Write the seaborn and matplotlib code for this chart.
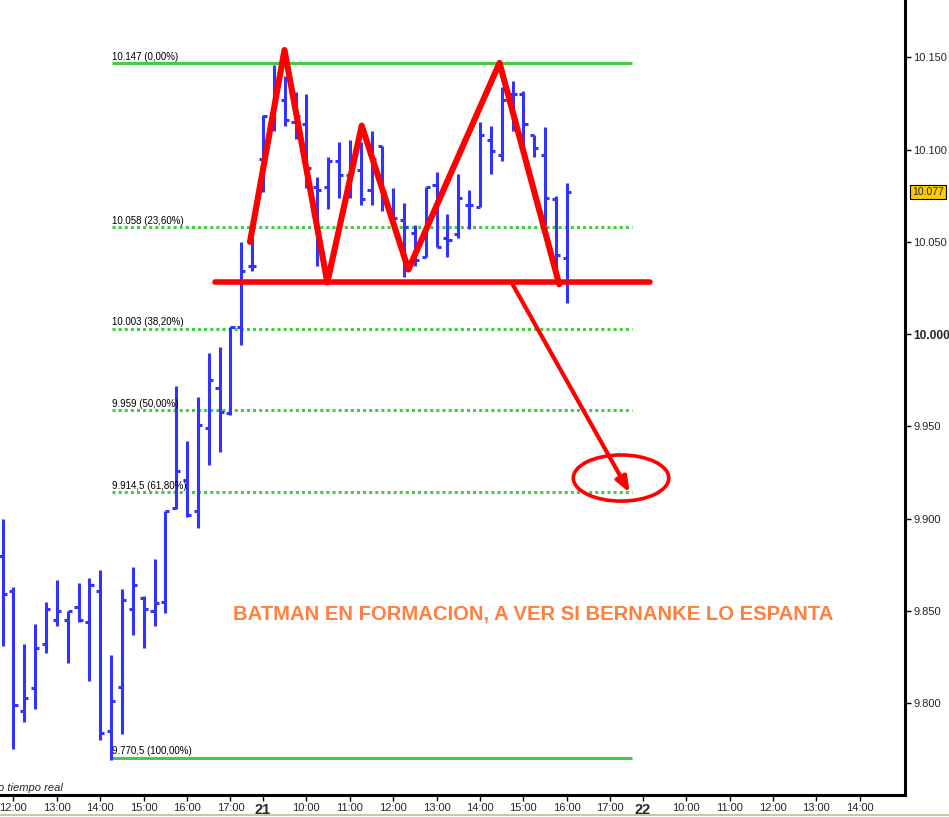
import matplotlib
matplotlib.use('Agg')
import matplotlib.pyplot as plt
from matplotlib.patches import Ellipse
from matplotlib.lines import Line2D
import pandas as pd
import seaborn as sns

# ---------------------------------------------------------------
# Data: 15 min bars, index 0 = day 21 09:00
# ---------------------------------------------------------------
bar_idx = list(range(-24, 29))
opens = [9880, 9861, 9796, 9808, 9832, 9845, 9845, 9852, 9844, 9861, 9785, 9809, 9851, 9857, 9850, 9855,
         9906, 9921, 9904, 9949, 9971, 9957, 10004, 10037,
         10095, 10114, 10127, 10115, 10114, 10080, 10080, 10094, 10086, 10089, 10078, 10102, 10068, 10062,
         10055, 10042, 10081, 10052, 10054, 10070, 10069, 10105, 10097, 10130, 10130, 10108, 10097, 10073, 10041]
highs = [9900, 9863, 9832, 9843, 9855, 9867, 9850, 9865, 9868, 9872, 9826, 9862, 9874, 9858, 9878, 9904,
         9972, 9942, 9966, 9990, 9993, 10004, 10050, 10052,
         10119, 10146, 10140, 10131, 10130, 10085, 10096, 10104, 10105, 10104, 10110, 10102, 10079, 10071,
         10059, 10080, 10088, 10065, 10087, 10078, 10115, 10113, 10134, 10137, 10132, 10108, 10112, 10075, 10082]
lows = [9831, 9775, 9790, 9797, 9827, 9842, 9822, 9844, 9812, 9780, 9769, 9783, 9837, 9830, 9842, 9849,
        9905, 9901, 9895, 9929, 9936, 9956, 9994, 10034,
        10077, 10110, 10113, 10106, 10079, 10037, 10068, 10074, 10074, 10070, 10070, 10067, 10063, 10031,
        10037, 10042, 10047, 10042, 10052, 10057, 10069, 10087, 10094, 10110, 10100, 10096, 10059, 10032, 10017]
closes = [9859, 9799, 9803, 9830, 9851, 9850, 9850, 9845, 9864, 9784, 9801, 9856, 9864, 9851, 9854, 9904,
          9926, 9902, 9951, 9975, 9958, 10004, 10034, 10037,
          10118, 10133, 10116, 10118, 10090, 10078, 10094, 10086, 10088, 10073, 10095, 10077, 10063, 10058,
          10040, 10080, 10047, 10051, 10074, 10070, 10108, 10099, 10127, 10130, 10114, 10101, 10074, 10043, 10077]

# Fibonacci retracement levels
fib_levels = [10147, 10058, 10003, 9959, 9914.5, 9770.5]
fib_labels = ['10.147 (0,00%)', '10.058 (23,60%)', '10.003 (38,20%)', '9.959 (50,00%)',
              '9.914,5 (61,80%)', '9.770,5 (100,00%)']
fib_solid = [True, False, False, False, False, True]
fib_start, fib_end = -13.9, 34.0

# hand drawn "batman" pattern
batman_x = [-1.2, 1.98, 5.93, 9.1, 13.4, 21.8, 27.3]
batman_y = [10050, 10154, 10028, 10113, 10035, 10147, 10027]
neck_x = [-4.4, 35.7]
neck_y = [10028, 10028]
arrow_x = [23.0, 33.8]
arrow_y = [10027, 9914]
target_center = (33.0, 9922)

# axis ticks
x_ticks = [-23, -19, -15, -11, -7, -3, 0, 4, 8, 12, 16, 20, 24, 28, 32, 35, 39, 43, 47, 51, 55]
x_labels = ['12:00', '13:00', '14:00', '15:00', '16:00', '17:00', '21', '10:00', '11:00', '12:00', '13:00',
            '14:00', '15:00', '16:00', '17:00', '22', '10:00', '11:00', '12:00', '13:00', '14:00']
y_ticks = [9800, 9850, 9900, 9950, 10000, 10050, 10100, 10150]
y_labels = ['9.800', '9.850', '9.900', '9.950', '10.000', '10.050', '10.100', '10.150']
last_price = 10077

df = pd.DataFrame({'idx': bar_idx, 'open': opens, 'high': highs, 'low': lows, 'close': closes})

# ---------------------------------------------------------------
sns.set_style('white')
plt.rcParams['font.family'] = ['Liberation Sans', 'DejaVu Sans']

blue = '#3333FF'
green = '#44CC44'
red = '#FF0000'

fig = plt.figure(figsize=(9.49, 8.17), dpi=100)
ax = fig.add_axes([0, 22 / 817, 905 / 949, 795 / 817])

# OHLC bars
ax.vlines(df['idx'], df['low'], df['high'], color=blue, lw=2.2, zorder=3)
ax.hlines(df['open'], df['idx'] - 0.38, df['idx'], color=blue, lw=2.2, zorder=3)
ax.hlines(df['close'], df['idx'], df['idx'] + 0.38, color=blue, lw=2.2, zorder=3)

# fibonacci lines
for lvl, lab, solid in zip(fib_levels, fib_labels, fib_solid):
    ls = '-' if solid else (0, (1, 1))
    ax.hlines(lvl, fib_start, fib_end, color=green, lw=2.2, linestyles=[ls], zorder=2)
    ax.text(fib_start, lvl + 0.6, lab, fontsize=7, ha='left', va='bottom', color='black', zorder=4)

# red annotations
sns.lineplot(x=batman_x, y=batman_y, sort=False, estimator=None, color=red, lw=4.4, ax=ax, zorder=5)
sns.lineplot(x=neck_x, y=neck_y, sort=False, estimator=None, color=red, lw=4.0, ax=ax, zorder=5)
ax.annotate('', xy=(arrow_x[1], arrow_y[1]), xytext=(arrow_x[0], arrow_y[0]),
            arrowprops=dict(arrowstyle='-|>,head_length=0.9,head_width=0.35', color=red, lw=3,
                            shrinkA=0, shrinkB=0, fill=False), zorder=5)
ax.add_patch(Ellipse(target_center, width=8.8, height=25, fill=False, ec=red, lw=2.6, zorder=5))

ax.text(24.9, 9848, 'BATMAN EN FORMACION, A VER SI BERNANKE LO ESPANTA', color='#FF7F3F',
        fontsize=14.6, fontweight='bold', ha='center', va='center', zorder=6)

# axes
ax.set_xlim(-24.24, 59.17)
ax.set_ylim(9750.2, 10181.1)
ax.set_xticks(x_ticks)
ax.set_xticklabels(x_labels, fontsize=8)
for t in ax.get_xticklabels():
    if t.get_text() in ('21', '22'):
        t.set_fontweight('bold')
        t.set_fontsize(10.5)
ax.yaxis.tick_right()
ax.set_yticks(y_ticks)
ax.set_yticklabels(y_labels, fontsize=8)
for t in ax.get_yticklabels():
    if t.get_text() == '10.000':
        t.set_fontweight('bold')
        t.set_fontsize(8.6)
ax.tick_params(axis='both', direction='out', length=4, width=1, color='black', pad=2,
               bottom=True, right=True, left=False)
for s in ['top', 'left']:
    ax.spines[s].set_visible(False)
for s in ['right', 'bottom']:
    ax.spines[s].set_color('black')
    ax.spines[s].set_linewidth(2.2)
ax.set_xlabel('')
ax.set_ylabel('')

# last price box
ax.text(1.0075, last_price, '10.077', transform=ax.get_yaxis_transform(), fontsize=7.5, ha='left',
        va='center', bbox=dict(boxstyle='square,pad=0.2', fc='#FFCC00', ec='black', lw=0.8))

ax.text(-0.002, 0.003, 'o tiempo real', transform=ax.transAxes, fontsize=8, style='italic',
        ha='left', va='bottom')

fig.add_artist(Line2D([0, 1], [2 / 817, 2 / 817], color='#C8C8A8', lw=1.5))

fig.savefig('out.png', dpi=100)
